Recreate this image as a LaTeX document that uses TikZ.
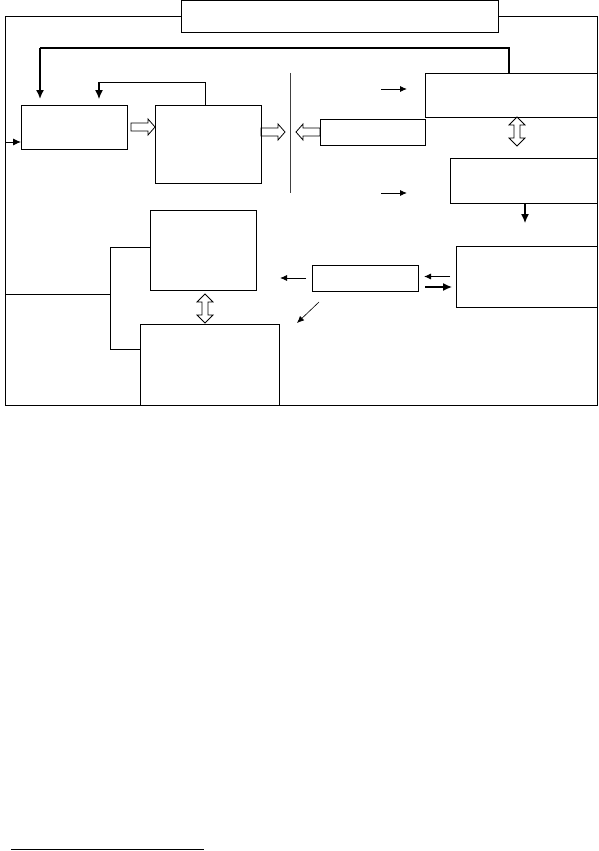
\documentclass[tikz,border=0pt]{standalone}
\usepackage{tikz}
\usetikzlibrary{positioning,arrows.meta,calc}

\begin{document}
\begin{tikzpicture}[
  x=1pt, y=-1pt,
  every node/.style={inner sep=0pt, outer sep=0pt},
  box/.style={rectangle, draw, line width=0.9pt},
  frame/.style={line width=0.9pt},
  arrow/.style={-{Latex[length=7pt,width=6pt]}, line width=0.9pt},
  bigarrow/.style={-{Latex[length=9pt,width=8pt]}, line width=1.4pt},
  hollow/.pic={
    \draw[line width=0.8pt] (0,-4) -- (17,-4) -- (17,-8) -- (24,0) -- (17,8) -- (17,4) -- (0,4) -- cycle;
  },
  twoway/.pic={
    \draw[line width=0.8pt] (0,0) -- (8,8) -- (3,8) -- (3,21) -- (8,21) -- (0,29)
      -- (-8,21) -- (-3,21) -- (-3,8) -- (-8,8) -- cycle;
  }
]
\useasboundingbox (0,0) rectangle (598,851);

% boxes
\node[box, minimum width=317pt, minimum height=31.5pt] (top) at (339.5,16.25) {};
\node[box, minimum width=106pt, minimum height=44pt] (left1) at (74,127) {};
\node[box, minimum width=106pt, minimum height=78pt] (mid1) at (208,144) {};
\node[box, minimum width=105pt, minimum height=26pt] (cbox) at (372.5,132) {};
\node[box, minimum width=172pt, minimum height=44pt] (r1) at (511,95) {};
\node[box, minimum width=147pt, minimum height=45pt] (r2) at (523.5,180.5) {};
\node[box, minimum width=141pt, minimum height=61pt] (r3) at (526.5,276.5) {};
\node[box, minimum width=106pt, minimum height=26pt] (dbox) at (365,278) {};
\node[box, minimum width=106pt, minimum height=80pt] (e) at (203,250) {};
\node[box, minimum width=139pt, minimum height=81pt] (f) at (209.5,364.5) {};

% outer frame
\coordinate (botL) at (5,405);
\coordinate (botR) at (597,405);
\draw[frame] (top.west) -| (botL) -- (botR) |- (top.east);
\draw[arrow, -{Latex[length=8pt,width=7pt]}] ([yshift=-15pt]left1.west -| botL) -- ([yshift=-15pt]left1.west);

% feedback lines
\coordinate (fbk) at (40,48);
\coordinate (lp) at (99,82);
\draw[frame, line width=1.1pt] ([xshift=-2pt]r1.north) |- (fbk);
\draw[bigarrow, shorten >=6pt, line width=1.6pt] (fbk) -- (fbk |- left1.north);
\draw[frame] ([xshift=-3pt]mid1.north) |- (lp);
\draw[bigarrow, shorten >=6pt, line width=1.2pt] (lp) -- (lp |- left1.north);

% hollow arrows
\pic at ($(left1.east)+(4,0)$) {hollow};
\pic at ($(mid1.east)+(0,-12)$) {hollow};
\pic[rotate=180] at (cbox.west) {hollow};
\pic at (517,117) {twoway};
\pic at (205,294) {twoway};

% divider
\draw[line width=0.9pt, black!75] (290,73) -- (290,193);

% small arrows
\coordinate (s1) at (381,89);
\coordinate (s2) at (381,193);
\draw[arrow] (s1) -- ++(26,0);
\draw[arrow] (s2) -- ++(26,0);
\draw[bigarrow, line width=1.2pt] ([xshift=1.5pt]r2.south) -- ++(0,20);
\draw[arrow] ([xshift=-6pt]dbox.west) -- ++(-26,0);
\draw[arrow] ($(r3.west)+(-6,0)$) -- ($(r3.west -| dbox.east)+(6,0)$);
\draw[bigarrow, line width=1.3pt] ($(dbox.east)+(7,9)$) -- ($(r3.west)+(-4,10.5)$);
\draw[arrow, line width=0.6pt] ($(dbox.south west)+(7,11)$) -- ++(-22,21);

% bracket
\coordinate (brt) at (110,247);
\coordinate (brb) at (110,349);
\draw[frame] (brt |- 0,294) -- (botL |- 0,294);
\draw[frame] (e.west |- brt) -- (brt) -- (brb) -- (f.west |- brb);

% footnote rule
\draw[line width=1pt] (11,849.5) -- (204,849.5);
\end{tikzpicture}
\end{document}
